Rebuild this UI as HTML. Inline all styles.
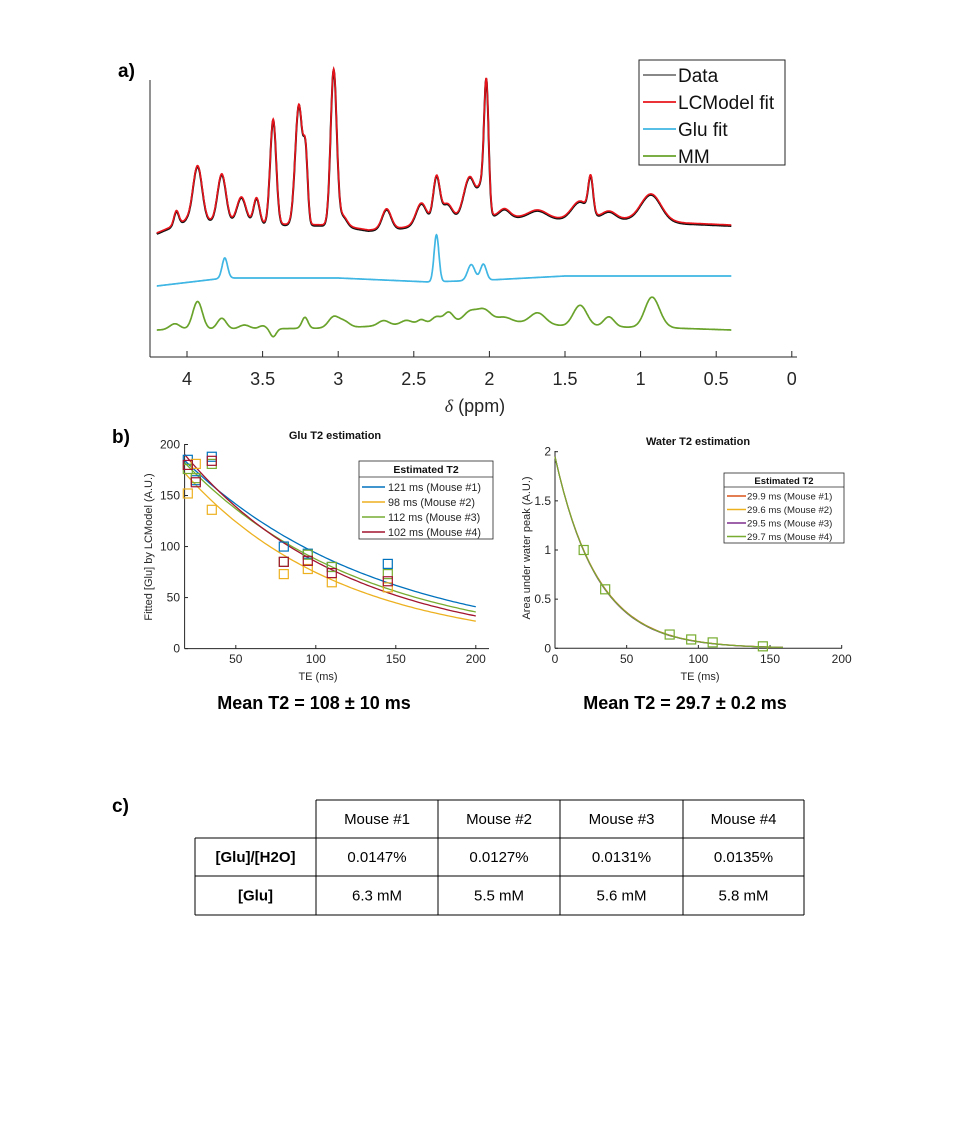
<!DOCTYPE html>
<html><head><meta charset="utf-8">
<style>
body{margin:0;background:#fff;}
svg{display:block;font-family:"Liberation Sans",Arial,sans-serif;}
</style></head>
<body>
<svg id="fig" width="960" height="1134" viewBox="0 0 960 1134" xmlns="http://www.w3.org/2000/svg">
<rect width="960" height="1134" fill="#fff"/>
<text x="118" y="77" font-size="19" font-weight="bold">a)</text>
<text x="112" y="443" font-size="19" font-weight="bold">b)</text>
<text x="112" y="812" font-size="19" font-weight="bold">c)</text>
<g id="spec"></g>
<g id="glu"></g>
<g id="water"></g>
<g id="table"></g>
</svg>
<script>
// ===== Spectrum data =====
const specTicks = [4,3.5,3,2.5,2,1.5,1,0.5,0];
const fitBasePpm = [4.2,4.0,3.5,3.0,2.8,2.6,2.2,2.0,1.5,1.0,0.7,0.4];
const fitBaseVal = [0,13,9,8,3,5,13,17,14,14,10,8];
const fitPeakPpm = [4.07,3.93,3.77,3.64,3.54,3.43,3.26,3.215,3.03,2.97,2.68,2.45,2.35,2.28,2.13,2.05,2.02,1.90,1.68,1.40,1.33,1.21,0.93];
const fitPeakAmp = [14,55,48,26,26,105,120,62,155,10,20,22,45,18,42,26,125,8,8,18,36,8,26];
const fitPeakWid = [0.016,0.03,0.028,0.03,0.02,0.02,0.024,0.014,0.02,0.028,0.03,0.035,0.022,0.035,0.04,0.024,0.015,0.035,0.06,0.055,0.016,0.045,0.065];
const gluBasePpm = [4.2,3.75,3.0,2.4,2.0,1.5,0.4];
const gluBaseVal = [0,8,8,4,6,10,10];
const gluPeakPpm = [3.75,2.35,2.12,2.04];
const gluPeakAmp = [20,47,16,16];
const gluPeakWid = [0.018,0.016,0.024,0.02];
const mmBasePpm = [4.2,3.0,2.5,2.0,1.5,0.8,0.4];
const mmBaseVal = [0,2,6,10,4,2,0];
const mmPeakPpm = [4.08,3.93,3.77,3.62,3.5,3.43,3.22,3.03,2.96,2.7,2.55,2.45,2.35,2.27,2.13,2.04,1.9,1.68,1.40,1.21,0.93,0.88];
const mmPeakAmp = [6,28,11,4,3,-8,11,11,6,5,4,4,6,10,9,11,4,11,21,10,27,6];
const mmPeakWid = [0.035,0.032,0.03,0.035,0.025,0.02,0.02,0.035,0.035,0.035,0.035,0.025,0.03,0.03,0.04,0.045,0.045,0.05,0.045,0.035,0.045,0.045];
const legendSpec = ["Data","LCModel fit","Glu fit","MM"];

// ===== Glu T2 data =====
const gluTE = [20,25,35,80,95,110,145];
const gluM1 = [185,165,188,100,93,80,83];
const gluM2 = [152,181,136,73,78,65,60];
const gluM3 = [176,167,181,85,92,80,73];
const gluM4 = [180,163,184,85,86,74,66];
const gluS0 = [214,207,214,227];
const gluT2 = [121,98,112,102];
const gluLegend = ["121 ms (Mouse #1)","98 ms   (Mouse #2)","112 ms (Mouse #3)","102 ms (Mouse #4)"];
const gluXTicks = [50,100,150,200];
const gluYTicks = [0,50,100,150,200];

// ===== Water T2 data =====
const watTE = [20,35,80,95,110,145];
const watVal = [1.0,0.6,0.14,0.09,0.06,0.02];
const watS0 = [1.95,1.95,1.95,1.95];
const watT2 = [29.9,29.6,29.5,29.7];
const watLegend = ["29.9 ms (Mouse #1)","29.6 ms (Mouse #2)","29.5 ms (Mouse #3)","29.7 ms (Mouse #4)"];
const watXTicks = [0,50,100,150,200];
const watYTicks = [0,0.5,1,1.5,2];
const watYLabels = ["0","0.5","1","1.5","2"];

// ===== Table data =====
const tabHeader = ["","Mouse #1","Mouse #2","Mouse #3","Mouse #4"];
const tabRow1 = ["[Glu]/[H2O]","0.0147%","0.0127%","0.0131%","0.0135%"];
const tabRow2 = ["[Glu]","6.3 mM","5.5 mM","5.6 mM","5.8 mM"];

const NS="http://www.w3.org/2000/svg";
function mk(parent,tag,attrs,text){const e=document.createElementNS(NS,tag);for(const k in attrs)e.setAttribute(k,attrs[k]);if(text!==undefined)e.textContent=text;parent.appendChild(e);return e;}
function interp(xs,ys,x){
  if(x>=xs[0])return ys[0]; if(x<=xs[xs.length-1])return ys[ys.length-1];
  for(let i=0;i<xs.length-1;i++){if(x<=xs[i]&&x>=xs[i+1]){const t=(xs[i]-x)/(xs[i]-xs[i+1]);return ys[i]+t*(ys[i+1]-ys[i]);}}
  return 0;}
function specVal(p,bp,bv,pp,pa,pw){let v=interp(bp,bv,p);for(let i=0;i<pp.length;i++){const d=(p-pp[i])/pw[i];v+=pa[i]*Math.exp(-0.5*d*d);}return v;}

// ===== Spectrum =====
(function(){
const g=document.getElementById('spec');
const X=p=>187+(4-p)*151.2;
const L=150,B=357,T=80,R=797;
let e;
e=mk(g,'line',{x1:L,y1:T,x2:L,y2:B,stroke:'#262626','stroke-width':1});

e=mk(g,'line',{x1:L,y1:B,x2:R,y2:B,stroke:'#262626','stroke-width':1});

specTicks.forEach(t=>{
  e=mk(g,'line',{x1:X(t),y1:B,x2:X(t),y2:B-6,stroke:'#262626'});
  
  e=mk(g,'text',{x:X(t),y:B+28,'font-size':18,'text-anchor':'middle',fill:'#262626'},String(t));
  
});
e=mk(g,'text',{x:475,y:412,'font-size':18,'text-anchor':'middle',fill:'#262626'});

mk(e,'tspan',{'font-family':'Liberation Serif, serif','font-style':'italic'},'δ');
mk(e,'tspan',{},' (ppm)');
function path(bp,bv,pp,pa,pw,base,off){let d='';for(let p=4.2;p>=0.4;p-=0.0025){const y=base-specVal(p,bp,bv,pp,pa,pw)+off;d+=(d?'L':'M')+X(p).toFixed(1)+','+y.toFixed(1);}return d;}
e=mk(g,'path',{d:path(fitBasePpm,fitBaseVal,fitPeakPpm,fitPeakAmp,fitPeakWid,233,1),fill:'none',stroke:'#111','stroke-width':2});

e=mk(g,'path',{d:path(fitBasePpm,fitBaseVal,fitPeakPpm,fitPeakAmp,fitPeakWid,233,0),fill:'none',stroke:'#e8141c','stroke-width':1.6});

e=mk(g,'path',{d:path(gluBasePpm,gluBaseVal,gluPeakPpm,gluPeakAmp,gluPeakWid,286,0),fill:'none',stroke:'#3fb6e3','stroke-width':1.7});

e=mk(g,'path',{d:path(mmBasePpm,mmBaseVal,mmPeakPpm,mmPeakAmp,mmPeakWid,330,0),fill:'none',stroke:'#6aa32c','stroke-width':1.7});

e=mk(g,'rect',{x:639,y:60,width:146,height:105,fill:'#fff',stroke:'#262626'});

const lc=['#111','#e8141c','#3fb6e3','#6aa32c'];
legendSpec.forEach((s,i)=>{const y=75+i*27;
  e=mk(g,'line',{x1:643,y1:y,x2:676,y2:y,stroke:lc[i],'stroke-width':i?1.8:1});
  
  e=mk(g,'text',{x:678,y:y+7,'font-size':19,fill:'#111'},s);
  
});
})();

// ===== Glu T2 plot =====
(function(){
const g=document.getElementById('glu');
const X=t=>184.6+(t-18)*1.6, Y=v=>648.6-v*1.0205;
const cols=['#0072BD','#EDB120','#77AC30','#A2142F'];
const series=[gluM1,gluM2,gluM3,gluM4];
let e;
e=mk(g,'text',{x:335,y:439,'font-size':11,'font-weight':'bold','text-anchor':'middle',fill:'#111'},'Glu T2 estimation');

e=mk(g,'line',{x1:184.6,y1:444,x2:184.6,y2:648.6,stroke:'#262626'});

e=mk(g,'line',{x1:184.6,y1:648.6,x2:489,y2:648.6,stroke:'#262626'});

gluXTicks.forEach(t=>{e=mk(g,'line',{x1:X(t),y1:648.6,x2:X(t),y2:645,stroke:'#262626'});
 e=mk(g,'text',{x:X(t),y:663,'font-size':12,'text-anchor':'middle',fill:'#262626'},String(t));});
gluYTicks.forEach(t=>{e=mk(g,'line',{x1:184.6,y1:Y(t),x2:188,y2:Y(t),stroke:'#262626'});
 e=mk(g,'text',{x:180,y:Y(t)+4,'font-size':12,'text-anchor':'end',fill:'#262626'},String(t));});
e=mk(g,'text',{x:318,y:680,'font-size':11,'text-anchor':'middle',fill:'#262626'},'TE (ms)');

e=mk(g,'text',{x:0,y:0,'font-size':11,'text-anchor':'middle',fill:'#262626',transform:'translate(152,547) rotate(-90)'},'Fitted [Glu] by LCModel (A.U.)');

for(let k=0;k<4;k++){let d='';for(let t=18;t<=200;t+=2){d+=(d?'L':'M')+X(t).toFixed(1)+','+Y(gluS0[k]*Math.exp(-t/gluT2[k])).toFixed(1);}
 e=mk(g,'path',{d:d,fill:'none',stroke:cols[k],'stroke-width':1.3});}
for(let k=0;k<4;k++){series[k].forEach((v,i)=>{e=mk(g,'rect',{x:X(gluTE[i])-4.5,y:Y(v)-4.5,width:9,height:9,fill:'none',stroke:cols[k],'stroke-width':1.2});});}
e=mk(g,'rect',{x:359,y:461,width:134,height:78,fill:'#fff',stroke:'#262626','stroke-width':0.8});

e=mk(g,'text',{x:426,y:473,'font-size':10.5,'font-weight':'bold','text-anchor':'middle',fill:'#111'},'Estimated T2');

mk(g,'line',{x1:359,y1:477,x2:493,y2:477,stroke:'#262626','stroke-width':0.8});
gluLegend.forEach((s,i)=>{const y=487+i*15;e=mk(g,'line',{x1:362,y1:y,x2:385,y2:y,stroke:cols[i],'stroke-width':1.4});
 e=mk(g,'text',{x:388,y:y+4,'font-size':10.8,fill:'#262626','xml:space':'preserve'},s);});
e=mk(g,'text',{x:314,y:709,'font-size':18,'font-weight':'bold','text-anchor':'middle',fill:'#000'},'Mean T2 = 108 ± 10 ms');

})();

// ===== Water T2 plot =====
(function(){
const g=document.getElementById('water');
const X=t=>555+t*1.4335, Y=v=>648.3-v*98.3;
const cols=['#D95319','#EDB120','#7E2F8E','#77AC30'];
let e;
e=mk(g,'text',{x:698,y:445,'font-size':11,'font-weight':'bold','text-anchor':'middle',fill:'#111'},'Water T2 estimation');

e=mk(g,'line',{x1:555,y1:451,x2:555,y2:648.3,stroke:'#262626'});

e=mk(g,'line',{x1:555,y1:648.3,x2:842,y2:648.3,stroke:'#262626'});

watXTicks.forEach(t=>{e=mk(g,'line',{x1:X(t),y1:648.3,x2:X(t),y2:645,stroke:'#262626'});
 e=mk(g,'text',{x:X(t),y:663,'font-size':12,'text-anchor':'middle',fill:'#262626'},String(t));});
watYTicks.forEach((t,i)=>{e=mk(g,'line',{x1:555,y1:Y(t),x2:558,y2:Y(t),stroke:'#262626'});
 e=mk(g,'text',{x:551,y:Y(t)+4,'font-size':12,'text-anchor':'end',fill:'#262626'},watYLabels[i]);});
e=mk(g,'text',{x:700,y:680,'font-size':11,'text-anchor':'middle',fill:'#262626'},'TE (ms)');

e=mk(g,'text',{x:0,y:0,'font-size':11,'text-anchor':'middle',fill:'#262626',transform:'translate(530,548) rotate(-90)'},'Area under water peak (A.U.)');

for(let k=0;k<4;k++){let d='';for(let t=0;t<=160;t+=1.5){d+=(d?'L':'M')+X(t).toFixed(1)+','+Y(watS0[k]*Math.exp(-t/watT2[k])).toFixed(1);}
 e=mk(g,'path',{d:d,fill:'none',stroke:cols[k],'stroke-width':1.2});}
watVal.forEach((v,i)=>{e=mk(g,'rect',{x:X(watTE[i])-4.5,y:Y(v)-4.5,width:9,height:9,fill:'none',stroke:'#77AC30','stroke-width':1.2});});
e=mk(g,'rect',{x:724,y:473,width:120,height:70,fill:'#fff',stroke:'#262626','stroke-width':0.8});

e=mk(g,'text',{x:784,y:484,'font-size':9.5,'font-weight':'bold','text-anchor':'middle',fill:'#111'},'Estimated T2');

mk(g,'line',{x1:724,y1:487,x2:844,y2:487,stroke:'#262626','stroke-width':0.8});
watLegend.forEach((s,i)=>{const y=496+i*13.5;e=mk(g,'line',{x1:727,y1:y,x2:746,y2:y,stroke:cols[i],'stroke-width':1.4});
 e=mk(g,'text',{x:747,y:y+3.5,'font-size':9.6,fill:'#262626'},s);});
e=mk(g,'text',{x:685,y:709,'font-size':18,'font-weight':'bold','text-anchor':'middle',fill:'#000'},'Mean T2 = 29.7 ± 0.2 ms');

})();

// ===== Table =====
(function(){
const g=document.getElementById('table');
const xs=[195,316,438,560,683,804], ys=[800,838,876,915];
const rows=[tabHeader,tabRow1,tabRow2];
let e;
e=mk(g,'line',{x1:316,y1:ys[0],x2:804,y2:ys[0],stroke:'#000'});
for(let r=1;r<4;r++){e=mk(g,'line',{x1:195,y1:ys[r],x2:804,y2:ys[r],stroke:'#000'});}
for(let c=0;c<6;c++){e=mk(g,'line',{x1:xs[c],y1:c===0?ys[1]:ys[0],x2:xs[c],y2:ys[3],stroke:'#000'});}
rows.forEach((row,r)=>row.forEach((s,c)=>{if(!s)return;
 e=mk(g,'text',{x:(xs[c]+xs[c+1])/2,y:(ys[r]+ys[r+1])/2+5,'font-size':15,'text-anchor':'middle','font-weight':(c===0?'bold':'normal'),fill:'#000'},s);
 }));
})();
</script>
</body></html>
